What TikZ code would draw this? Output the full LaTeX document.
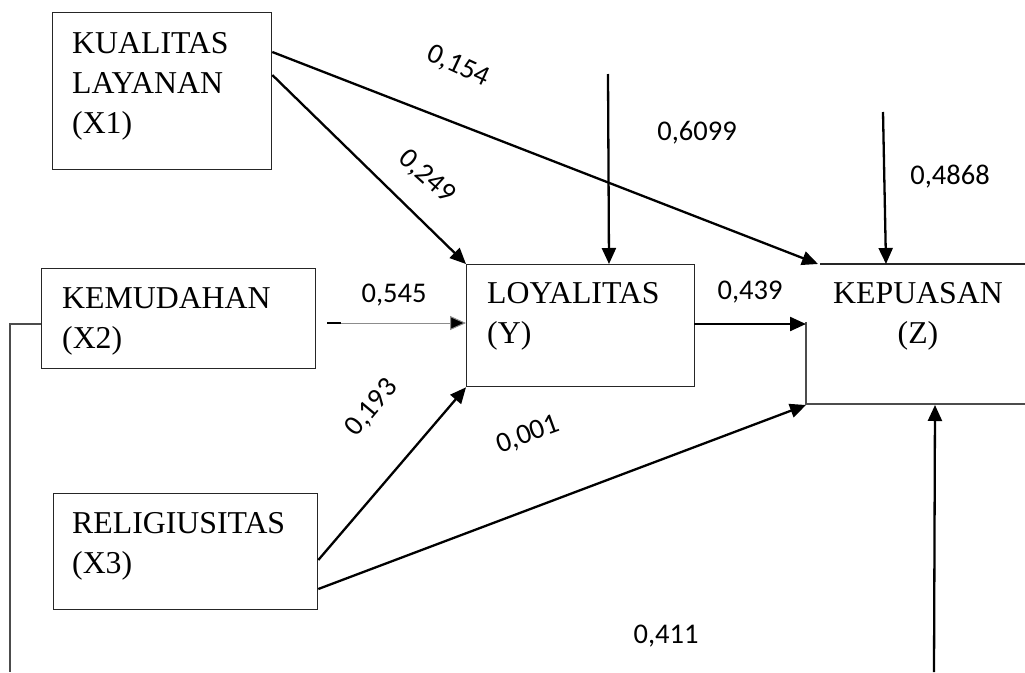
\documentclass[tikz,border=0pt]{standalone}
\usepackage{fontspec}
\setmainfont{Liberation Serif}
\newfontfamily\labfont{Carlito}
\usetikzlibrary{arrows.meta,calc}
\begin{document}
\begin{tikzpicture}[x=1pt,y=-1pt,
  box/.style={draw=black!85,line width=1.3pt,anchor=north west,inner sep=0pt},
  txt/.style={anchor=base west,inner sep=0pt,font=\fontsize{31.8pt}{40pt}\selectfont},
  ctxt/.style={anchor=base,inner sep=0pt,font=\fontsize{31.8pt}{40pt}\selectfont},
  lab/.style={inner sep=0pt,font=\labfont\fontsize{28.5pt}{34pt}\selectfont},
  arr/.style={line width=2.3pt,-{Triangle[length=16pt,width=14pt]}},
  thinarr/.style={line width=1pt,draw=black!45,-{Triangle[length=16pt,width=14pt,fill=black]}},
  fb/.style={line width=1.5pt,draw=black!70}]
\useasboundingbox (0,0) rectangle (1025,672);
% boxes
\node[box,minimum width=219pt,minimum height=157pt] (x1) at (52,12) {};
\node[box,minimum width=274pt,minimum height=100pt] (x2) at (41,268) {};
\node[box,minimum width=228pt,minimum height=122pt] (y) at (466,264) {};
\node[box,minimum width=264pt,minimum height=116pt] (x3) at (53,493) {};
% Z box (open)
\coordinate (ztl) at (820,264);
\coordinate (ztr) at (1025,264);
\coordinate (zml) at (806,322);
\coordinate (zbl) at (806,404);
\coordinate (zbr) at (1025,404);
\draw[line width=1.3pt,draw=black!85] (ztl) -- (ztr);
\draw[line width=1.3pt,draw=black!70] (zml) -- (zbl) -- (zbr);
% texts
\node[txt] (x1a) at (72,53) {KUALITAS};
\node[txt] (x1b) at (72,93) {LAYANAN};
\node[txt] (x1c) at (72,133) {(X1)};
\node[txt] (x2a) at (62,308) {KEMUDAHAN};
\node[txt] (x2b) at (62,348) {(X2)};
\node[txt] (ya) at (487,303) {LOYALITAS};
\node[txt] (yb) at (487,343) {(Y)};
\node[ctxt] (za) at (918,303) {KEPUASAN};
\node[ctxt] (zb) at (918,343) {(Z)};
\node[txt] (x3a) at (72,533) {RELIGIUSITAS};
\node[txt] (x3b) at (72,573) {(X3)};
% connectors
\coordinate (x1s1) at ([yshift=-40pt]x1.north east);
\coordinate (x1s2) at ([yshift=-63pt]x1.north east);
\coordinate (zin1) at (818,264);
\draw[arr] (x1s1) -- (zin1);
\draw[arr] (x1s2) -- (y.north west);
\coordinate (ey) at (608,74);
\coordinate (eyin) at (609,264);
\draw[arr] (ey) -- (eyin);
\coordinate (ez) at (883,112);
\coordinate (ezin) at (886,264);
\draw[arr] (ez) -- (ezin);
\coordinate (x2d1) at (327,323);
\coordinate (x2d2) at (341,323);
\coordinate (yin2) at (466,323);
\draw[line width=2.3pt] (x2d1) -- (x2d2);
\draw[thinarr] (x2d2) -- (yin2);
\coordinate (yout) at (694,324);
\coordinate (zin2) at (806,324);
\draw[arr] (yout) -- (zin2);
\coordinate (x3s1) at ([yshift=-67pt]x3.north east);
\coordinate (x3s2) at ([yshift=-96pt]x3.north east);
\draw[arr] (x3s1) -- (y.south west);
\coordinate (zin3) at (806,405);
\draw[arr] (x3s2) -- (zin3);
% feedback
\coordinate (fb1) at (10,324);
\coordinate (fb2) at (10,672);
\draw[fb] ([yshift=-56pt]x2.north west) -- (fb1) -- (fb2);
\coordinate (fb3) at (934,672);
\coordinate (zin4) at (935,405);
\draw[arr] (fb3) -- (zin4);
% labels
\node[lab,rotate=-25] (l1) at (458,66) {0,154};
\node[lab,rotate=-42] (l2) at (427,177) {0,249};
\node[lab] (l3) at (697,133) {0,6099};
\node[lab] (l4) at (950,177) {0,4868};
\node[lab] (l5) at (394,295) {0,545};
\node[lab] (l6) at (750,292) {0,439};
\node[lab,rotate=50] (l7) at (372,408) {0,193};
\node[lab,rotate=20] (l8) at (528,435) {0,001};
\node[lab] (l9) at (666,636) {0,411};
\end{tikzpicture}
\end{document}
